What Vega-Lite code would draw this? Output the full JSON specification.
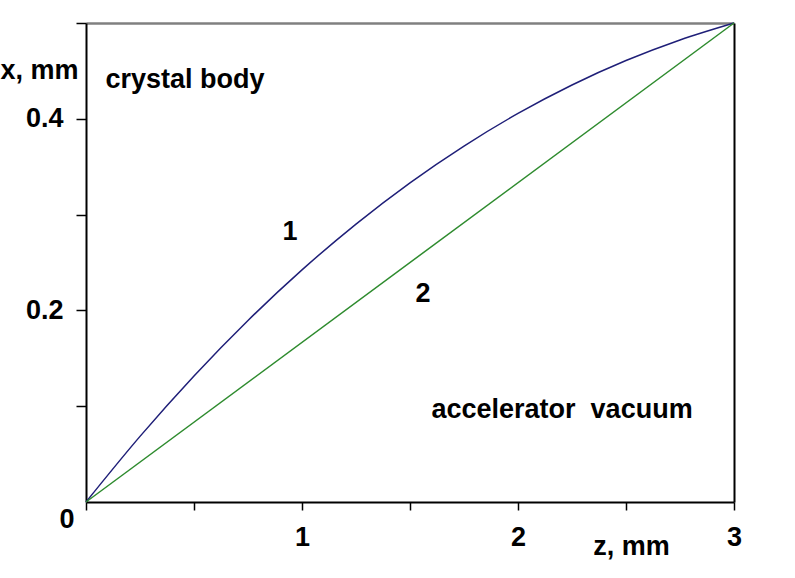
{
  "$schema": "https://vega.github.io/schema/vega-lite/v6.json",
  "width": 648,
  "height": 479,
  "autosize": {"type": "none"},
  "padding": {"left": 86, "top": 23, "right": 61, "bottom": 76},
  "background": "white",
  "config": {"view": {"stroke": null}},
  "datasets": {
    "curves": [
      {"curve": "1", "z": 0, "x": 0},
      {"curve": "1", "z": 0.25, "x": 0.0685},
      {"curve": "1", "z": 0.5, "x": 0.1316},
      {"curve": "1", "z": 0.75, "x": 0.1895},
      {"curve": "1", "z": 1.0, "x": 0.2423},
      {"curve": "1", "z": 1.25, "x": 0.2901},
      {"curve": "1", "z": 1.5, "x": 0.3332},
      {"curve": "1", "z": 1.75, "x": 0.3716},
      {"curve": "1", "z": 2.0, "x": 0.4056},
      {"curve": "1", "z": 2.25, "x": 0.4353},
      {"curve": "1", "z": 2.5, "x": 0.4608},
      {"curve": "1", "z": 2.75, "x": 0.4823},
      {"curve": "1", "z": 3.0, "x": 0.5},
      {"curve": "2", "z": 0, "x": 0},
      {"curve": "2", "z": 3.0, "x": 0.5}
    ],
    "labels": [
      {"text": "crystal body", "z": 0.458, "x": 0.432},
      {"text": "1", "z": 0.944, "x": 0.2735},
      {"text": "2", "z": 1.56, "x": 0.2088},
      {"text": "accelerator\u00a0 vacuum", "z": 2.204, "x": 0.0877},
      {"text": "0", "z": -0.088, "x": -0.0271}
    ]
  },
  "layer": [
    {
      "data": {"name": "curves"},
      "mark": {"type": "line", "strokeWidth": 1.5, "interpolate": "monotone", "clip": false},
      "encoding": {
        "x": {
          "field": "z", "type": "quantitative",
          "scale": {"domain": [0, 3], "nice": false, "zero": false},
          "axis": {
            "orient": "bottom",
            "values": [0, 0.5, 1, 1.5, 2, 2.5, 3],
            "format": "~g",
            "labelExpr": "datum.value == 1 || datum.value == 2 || datum.value == 3 ? datum.label : ''",
            "grid": false,
            "domainColor": "black", "domainWidth": 2,
            "tickColor": "black", "tickWidth": 1.5, "tickSize": 8,
            "labelFont": "Liberation Sans", "labelFontWeight": "bold", "labelFontSize": 27,
            "labelColor": "black", "labelPadding": 14,
            "labelFlush": false, "labelOverlap": false,
            "title": "z, mm",
            "titleFont": "Liberation Sans", "titleFontWeight": "bold", "titleFontSize": 27,
            "titleColor": "black", "titleX": 545, "titleY": 44,
            "titleAlign": "center", "titleBaseline": "middle"
          }
        },
        "y": {
          "field": "x", "type": "quantitative",
          "scale": {"domain": [0, 0.5], "nice": false, "zero": false},
          "axis": {
            "orient": "left",
            "values": [0.1, 0.2, 0.3, 0.4, 0.5],
            "format": ".1f",
            "labelExpr": "abs(datum.value - 0.2) < 0.001 || abs(datum.value - 0.4) < 0.001 ? datum.label : ''",
            "grid": false,
            "domainColor": "black", "domainWidth": 2,
            "tickColor": "black", "tickWidth": 1.5, "tickSize": 10,
            "labelFont": "Liberation Sans", "labelFontWeight": "bold", "labelFontSize": 27,
            "labelColor": "black", "labelPadding": 13,
            "labelFlush": false, "labelOverlap": false,
            "title": "x, mm",
            "titleFont": "Liberation Sans", "titleFontWeight": "bold", "titleFontSize": 27,
            "titleColor": "black", "titleAngle": 0, "titleX": -8, "titleY": 47,
            "titleAlign": "right", "titleBaseline": "middle"
          }
        },
        "color": {
          "field": "curve", "type": "nominal",
          "scale": {"domain": ["1", "2"], "range": ["#1f1f78", "#2e8b2e"]},
          "legend": null
        }
      }
    },
    {
      "data": {"name": "curves"},
      "mark": {"type": "line", "opacity": 0},
      "encoding": {
        "x": {
          "field": "z", "type": "quantitative",
          "axis": {"orient": "top", "labels": false, "ticks": false, "grid": false, "title": null, "domainColor": "#808080", "domainWidth": 2.5}
        },
        "y": {
          "field": "x", "type": "quantitative",
          "axis": {"orient": "right", "labels": false, "ticks": false, "grid": false, "title": null, "domainColor": "black", "domainWidth": 2}
        }
      }
    },
    {
      "data": {"name": "labels"},
      "mark": {"type": "text", "font": "Liberation Sans", "fontWeight": "bold", "fontSize": 27, "color": "black", "align": "center", "baseline": "alphabetic", "clip": false},
      "encoding": {
        "x": {"field": "z", "type": "quantitative", "axis": null},
        "y": {"field": "x", "type": "quantitative", "axis": null},
        "text": {"field": "text"}
      }
    }
  ],
  "resolve": {"axis": {"x": "independent", "y": "independent"}}
}
